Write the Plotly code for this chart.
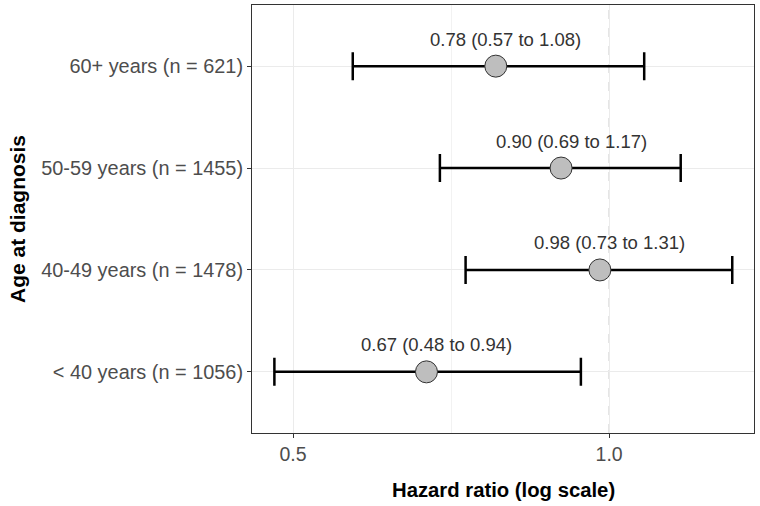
import math
import plotly.graph_objects as go

categories = ["< 40 years (n = 1056)", "40-49 years (n = 1478)",
              "50-59 years (n = 1455)", "60+ years (n = 621)"]
hr = [0.67, 0.98, 0.90, 0.78]
lower = [0.48, 0.73, 0.69, 0.57]
upper = [0.94, 1.31, 1.17, 1.08]
labels = [f"{h:.2f} ({l:.2f} to {u:.2f})" for h, l, u in zip(hr, lower, upper)]
ref_value = 1.0
x_title = "Hazard ratio (log scale)"
y_title = "Age at diagnosis"

FONT = "Liberation Sans, Arial"

fig = go.Figure()
fig.add_trace(go.Scatter(
    x=hr, y=categories, mode="markers",
    marker=dict(size=22, color="#BEBEBE", line=dict(color="#333333", width=1)),
    error_x=dict(type="data", symmetric=False,
                 array=[u - h for u, h in zip(upper, hr)],
                 arrayminus=[h - l for h, l in zip(hr, lower)],
                 color="black", thickness=2.5, width=14),
    showlegend=False, hoverinfo="skip",
))

for h, c, t in zip(hr, categories, labels):
    fig.add_annotation(x=math.log10(h), y=c, text=t, showarrow=False,
                       xshift=10, yshift=27,
                       font=dict(family=FONT, size=18.5, color="#333333"))

fig.add_shape(type="line", xref="x", yref="paper", x0=ref_value, x1=ref_value, y0=0, y1=1,
              line=dict(color="#BDBDBD", width=1, dash="dash"), layer="below")

# axis titles
fig.add_annotation(xref="paper", yref="paper", x=0.5, y=0, yshift=-57,
                   xanchor="center", yanchor="middle",
                   text=f"<b>{x_title}</b>", showarrow=False,
                   font=dict(family=FONT, size=20.3, color="black"))
fig.add_annotation(xref="paper", yref="paper", x=0, xshift=-235, y=0.5,
                   xanchor="center", yanchor="middle",
                   text=f"<b>{y_title}</b>", showarrow=False, textangle=-90,
                   font=dict(family=FONT, size=21, color="black"))

fig.update_layout(
    width=760, height=506,
    margin=dict(l=252, r=6, t=5, b=73),
    plot_bgcolor="white", paper_bgcolor="white",
    font=dict(family=FONT, size=19, color="#4D4D4D"),
    xaxis=dict(
        type="log", range=[math.log10(0.457), math.log10(1.374)],
        tick0=math.log10(0.5), dtick=math.log10(2), tickformat=".1f",
        tickfont=dict(family=FONT, size=19.5, color="#4D4D4D"),
        showgrid=True, gridcolor="#EBEBEB", gridwidth=1,
        minor=dict(tick0=math.log10(0.5), dtick=math.log10(2) / 2,
                   showgrid=True, gridcolor="#F2F2F2", gridwidth=0.6, ticks=""),
        showline=True, linecolor="#333333", linewidth=1, mirror=True,
        ticks="outside", ticklen=4, tickcolor="#333333",
        zeroline=False, automargin=False,
    ),
    yaxis=dict(
        type="category", categoryorder="array", categoryarray=categories,
        range=[-0.6, 3.6],
        tickfont=dict(family=FONT, size=19.9, color="#4D4D4D"),
        showgrid=True, gridcolor="#EBEBEB", gridwidth=1,
        showline=True, linecolor="#333333", linewidth=1, mirror=True,
        ticks="outside", ticklen=4, tickcolor="#333333",
        zeroline=False, automargin=False,
    ),
)

fig.write_html("out.html", config={"displayModeBar": False},
               post_script="document.body.style.margin='0px';document.body.style.overflow='hidden';")
